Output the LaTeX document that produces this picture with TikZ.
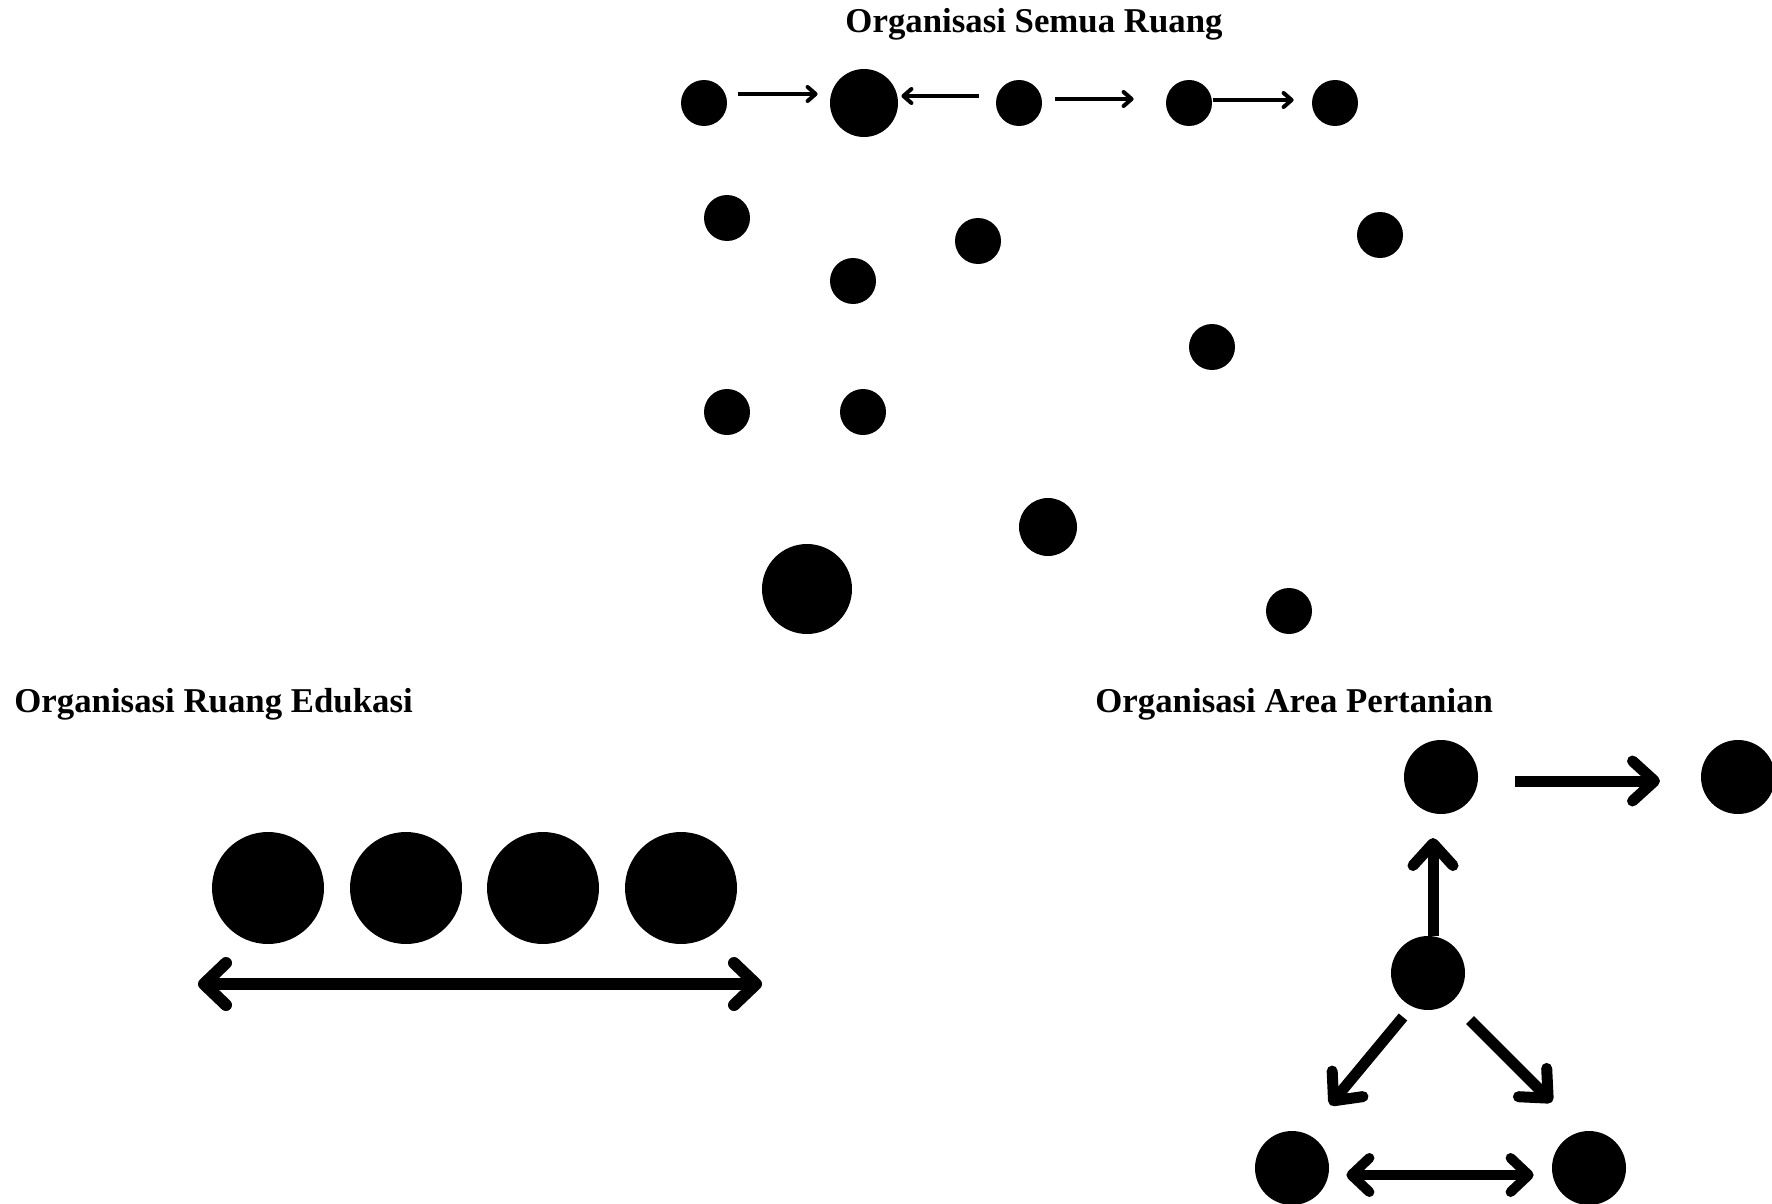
\documentclass[tikz,border=0pt]{standalone}
\usepackage{fontspec}
\setmainfont{Liberation Serif}
\usetikzlibrary{arrows.meta}
\begin{document}
\begin{tikzpicture}[x=0.5pt,y=-0.5pt,
  dot/.style={circle,fill=black,draw=none,inner sep=0pt,minimum size=#1},
  thinarr/.style={line width=2pt,-{Straight Barb[length=4pt,width=7pt,round]}},
  thickhead/.style={-{Straight Barb[length=11pt,width=20pt,round]}},
  thickarr/.style={line width=5.5pt,thickhead},
  dblarr/.style={line width=6pt,line cap=round,{Straight Barb[length=11pt,width=21pt,round]}-{Straight Barb[length=11pt,width=21pt,round]}},
  smalldbl/.style={line width=5pt,{Straight Barb[length=9pt,width=17pt,round]}-{Straight Barb[length=9pt,width=17pt,round]}},
  title/.style={font=\fontsize{17.4}{20}\selectfont\bfseries,inner sep=0pt}
]
\useasboundingbox (0,0) rectangle (1772,1204);
\clip (0,0) rectangle (1772,1204);

% ---- Organisasi Semua Ruang ----
\node[title,anchor=base] (tt) at (1034,33) {Organisasi Semua Ruang};
\node[dot=23pt] (t1) at (704,103) {};
\node[dot=34pt] (t2) at (864,103) {};
\node[dot=23pt] (t3) at (1019,103) {};
\node[dot=23pt] (t4) at (1189,103) {};
\node[dot=23pt] (t5) at (1335,103) {};
\draw[thinarr,shorten <=5.5pt,shorten >=6pt] ([yshift=4.5pt]t1.east) -- ([yshift=4.5pt]t2.west);
\draw[thinarr,shorten <=8.5pt,shorten >=1.5pt] ([yshift=3.5pt]t3.west) -- ([yshift=3.5pt]t2.east);
\draw[thinarr,shorten <=6.5pt,shorten >=16pt] ([yshift=2pt]t3.east) -- ([yshift=2pt]t4.west);
\draw[thinarr,shorten <=0.5pt,shorten >=9pt] ([yshift=1.5pt]t4.east) -- ([yshift=1.5pt]t5.west);

\node[dot=23pt] (s1) at (727,218) {};
\node[dot=23pt] (s2) at (853,281) {};
\node[dot=23pt] (s3) at (978,241) {};
\node[dot=23pt] (s4) at (1380,235) {};
\node[dot=23pt] (s5) at (1212,347) {};
\node[dot=23pt] (s6) at (727,412) {};
\node[dot=23pt] (s7) at (863,412) {};
\node[dot=29pt] (s8) at (1048,527) {};
\node[dot=45pt] (s9) at (807,589) {};
\node[dot=23pt] (s10) at (1289,611) {};

% ---- Organisasi Ruang Edukasi ----
\node[title,anchor=base west] (et) at (14,712) {Organisasi Ruang Edukasi};
\node[dot=56pt] (e1) at (268,888) {};
\node[dot=56pt] (e2) at (406,888) {};
\node[dot=56pt] (e3) at (543,888) {};
\node[dot=56pt] (e4) at (681,888) {};
\coordinate (ea) at (198,984);
\coordinate (eb) at (762,984);
\draw[dblarr] (ea) -- (eb);

% ---- Organisasi Area Pertanian ----
\node[title,anchor=base west] (pt) at (1095,712) {Organisasi Area Pertanian};
\node[dot=37pt] (pa) at (1441,777) {};
\node[dot=37pt] (pb) at (1738,777) {};
\node[dot=37pt] (pc) at (1428,973) {};
\node[dot=37pt] (pd) at (1292,1168) {};
\node[dot=37pt] (pe) at (1589,1168) {};
\draw[thickarr] ([shift={(74,4)}]pa.center) -- ([shift={(-78,4)}]pb.center);
\draw[thickarr] ([shift={(5,-37)}]pc.center) -- ([shift={(-8,61)}]pa.center);
\draw[thickarr] ([shift={(-25,44)}]pc.center) -- ([shift={(38,-63)}]pd.center);
\draw[thickarr] ([shift={(42,47)}]pc.center) -- ([shift={(-37,-66)}]pe.center);
\draw[smalldbl,shorten <=8.5pt,shorten >=9pt] ([yshift=-3.5pt]pd.east) -- ([yshift=-3.5pt]pe.west);
\end{tikzpicture}
\end{document}
